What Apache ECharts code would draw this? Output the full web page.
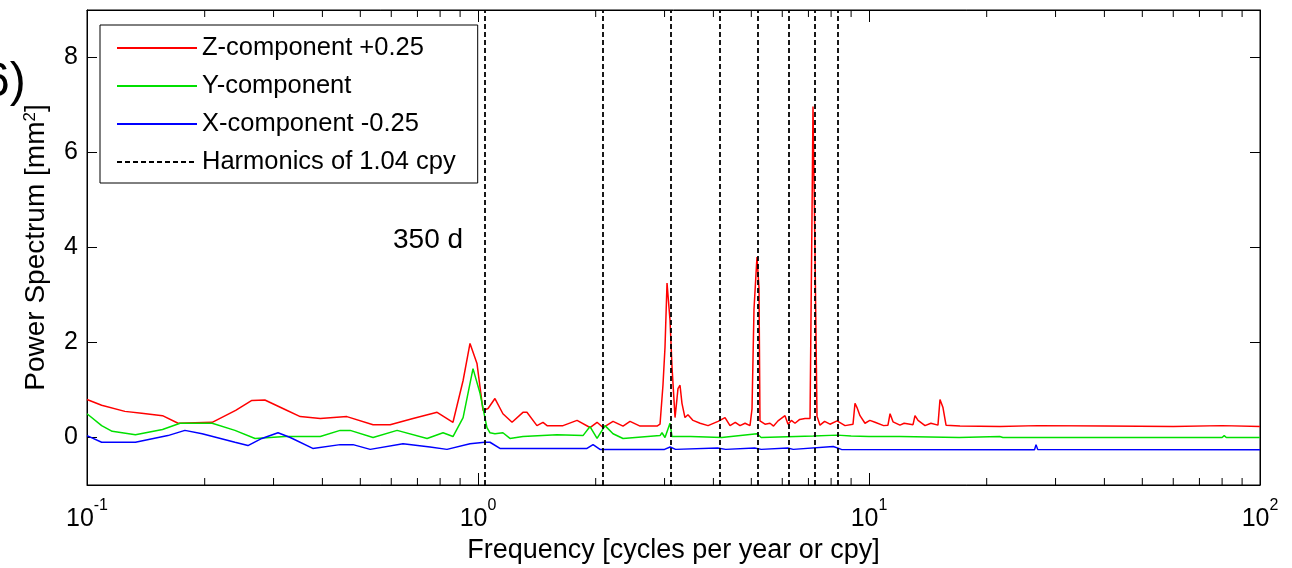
<!DOCTYPE html>
<html>
<head>
<meta charset="utf-8">
<script src="https://cdn.jsdelivr.net/npm/echarts@6/dist/echarts.min.js"></script>
<style>html,body{margin:0;padding:0;background:#fff;}#c{width:1292px;height:568px;}</style>
</head>
<body>
<div id="c"></div>
<script>
// ---- data (plotted values, offsets already included) ----
const zFreq = [0.100,0.109,0.125,0.138,0.156,0.171,0.209,0.240,0.264,0.285,0.321,0.351,0.395,0.462,0.539,0.596,0.682,0.786,0.863,0.916,0.954,0.994,1.030,1.061,1.105,1.158,1.222,1.303,1.334,1.415,1.466,1.502,1.650,1.792,1.934,2.016,2.088,2.215,2.349,2.448,2.597,2.870,2.921,2.972,3.008,3.044,3.098,3.135,3.191,3.228,3.247,3.286,3.324,3.383,3.443,3.548,3.698,3.876,4.111,4.283,4.411,4.550,4.679,4.820,4.962,5.021,5.080,5.170,5.232,5.262,5.420,5.583,5.700,5.852,6.098,6.207,6.330,6.468,6.650,6.860,7.066,7.149,7.191,7.276,7.362,7.492,7.700,7.947,8.285,8.684,9.101,9.209,9.318,9.484,9.767,10.05,10.36,10.90,11.18,11.32,11.52,12.00,12.30,12.96,13.11,13.35,13.91,14.40,15.01,15.19,15.46,15.74,17.09,21.63,27.0,40.0,60.0,80.0,100.0];
const zVal  = [0.80,0.68,0.55,0.51,0.46,0.30,0.32,0.57,0.78,0.79,0.59,0.44,0.40,0.44,0.27,0.27,0.40,0.53,0.32,1.20,1.98,1.56,0.57,0.61,0.82,0.50,0.32,0.53,0.53,0.25,0.32,0.25,0.25,0.36,0.21,0.32,0.21,0.34,0.24,0.34,0.24,0.24,0.28,1.10,1.90,3.25,2.47,1.48,0.42,0.82,1.03,1.10,0.72,0.42,0.48,0.36,0.30,0.25,0.34,0.42,0.25,0.32,0.25,0.30,0.25,0.60,2.70,3.80,3.15,0.35,0.28,0.30,0.24,0.35,0.46,0.28,0.36,0.30,0.38,0.40,0.40,4.70,6.97,3.90,0.45,0.26,0.34,0.28,0.35,0.25,0.28,0.72,0.63,0.46,0.30,0.36,0.32,0.25,0.26,0.50,0.33,0.26,0.30,0.27,0.46,0.36,0.25,0.30,0.26,0.80,0.63,0.26,0.24,0.23,0.25,0.24,0.23,0.25,0.23];

const yFreq = [0.100,0.109,0.116,0.133,0.156,0.173,0.209,0.239,0.269,0.321,0.395,0.444,0.471,0.539,0.621,0.741,0.814,0.863,0.916,0.971,1.012,1.054,1.073,1.105,1.158,1.207,1.303,1.592,1.856,1.934,2.016,2.113,2.215,2.349,2.921,2.955,3.008,3.098,3.135,3.500,4.200,5.170,5.300,7.200,8.300,9.000,10.00,12.00,17.00,21.60,22.00,80.00,81.00,82.00,100.0];
const yVal  = [0.50,0.25,0.13,0.06,0.17,0.30,0.30,0.15,-0.02,0.02,0.02,0.15,0.15,0.00,0.15,-0.02,0.10,0.02,0.42,1.45,0.93,0.21,0.10,0.08,0.10,-0.02,0.02,0.06,0.04,0.23,-0.02,0.25,0.08,-0.02,0.04,0.10,0.00,0.30,0.02,0.02,0.00,0.08,0.00,0.03,0.05,0.03,0.02,0.02,0.00,0.02,0.00,0.00,0.04,0.00,0.00];

const xFreq = [0.100,0.109,0.133,0.161,0.178,0.197,0.239,0.258,0.280,0.308,0.331,0.378,0.444,0.479,0.530,0.643,0.754,0.833,0.954,1.040,1.073,1.138,1.900,1.969,2.051,3.000,3.100,3.200,4.100,4.300,5.100,5.300,6.200,6.400,8.100,8.500,26.50,26.74,27.00,100.0];
const xVal  = [0.04,-0.10,-0.10,0.04,0.15,0.08,-0.10,-0.17,-0.02,0.10,0.00,-0.23,-0.15,-0.15,-0.25,-0.13,-0.20,-0.25,-0.13,-0.10,-0.10,-0.23,-0.23,-0.15,-0.25,-0.25,-0.20,-0.25,-0.22,-0.25,-0.22,-0.25,-0.22,-0.25,-0.19,-0.25,-0.26,-0.15,-0.25,-0.26];

const harmonics = [1.04,2.08,3.12,4.16,5.20,6.24,7.28,8.32];
const minorTicks = [0.2,0.3,0.4,0.5,0.6,0.7,0.8,0.9,2,3,4,5,6,7,8,9,20,30,40,50,60,70,80,90];
const yTickValues = [0,2,4,6,8];
const seriesNames = ['Z-component +0.25','Y-component','X-component -0.25','Harmonics of 1.04 cpy'];

const FONT = '"Liberation Sans", Arial, Helvetica, sans-serif';
const pairs = (f, v) => f.map((x, i) => [x, v[i]]);

const chart = echarts.init(document.getElementById('c'), null, {renderer: 'canvas'});
const xLabelFmt = v => '{b|10}{s|' + Math.round(Math.log10(v)) + '}';

chart.setOption({
  animation: false,
  backgroundColor: '#fff',
  textStyle: {fontFamily: FONT},
  grid: {left: 87, right: 32, top: 10, bottom: 83, show: true, borderColor: '#000', borderWidth: 1,
         backgroundColor: 'transparent', containLabel: false, outerBoundsMode: 'none'},
  legend: {
    orient: 'vertical', left: 100, top: 25,
    data: seriesNames,
    backgroundColor: '#fff', borderColor: '#000', borderWidth: 1,
    padding: [9, 22, 7, 16],
    itemWidth: 80, itemHeight: 14, itemGap: 10,
    itemStyle: {opacity: 0},
    textStyle: {fontSize: 25.5, color: '#000', fontFamily: FONT, lineHeight: 28},
    selectedMode: false
  },
  xAxis: [{
    type: 'log', logBase: 10, min: 0.1, max: 100, splitNumber: 3,
    name: 'Frequency [cycles per year or cpy]', nameLocation: 'middle', nameGap: 52,
    nameTextStyle: {fontSize: 27, color: '#000', fontFamily: FONT},
    axisLine: {show: true, onZero: false, lineStyle: {color: '#000', width: 1}},
    axisTick: {show: true, inside: true, length: 12, lineStyle: {color: '#000'}},
    axisLabel: {show: true, color: '#000', margin: 13, formatter: xLabelFmt,
      rich: {b: {fontSize: 25, lineHeight: 42, fontFamily: FONT, color: '#000'},
             s: {fontSize: 16, lineHeight: 16, verticalAlign: 'top', fontFamily: FONT, color: '#000'}}},
    splitLine: {show: false}
  }, {
    type: 'log', logBase: 10, min: 0.1, max: 100, splitNumber: 3, position: 'top',
    axisLine: {show: true, onZero: false, lineStyle: {color: '#000'}},
    axisTick: {show: true, inside: true, length: 12, lineStyle: {color: '#000'}},
    axisLabel: {show: false}, splitLine: {show: false}
  }],
  yAxis: [{
    type: 'value', min: -1, max: 9,
    name: 'Power Spectrum [mm{s|2}]', nameLocation: 'middle', nameGap: 37,
    nameTextStyle: {fontSize: 28, color: '#000', fontFamily: FONT,
      rich: {s: {fontSize: 17, verticalAlign: 'top', lineHeight: 17, fontFamily: FONT, color: '#000'}}},
    axisLine: {show: true, onZero: false, lineStyle: {color: '#000'}},
    axisTick: {show: true, inside: true, length: 10, customValues: yTickValues, lineStyle: {color: '#000'}},
    axisLabel: {show: true, fontSize: 25, color: '#000', margin: 9, customValues: yTickValues, fontFamily: FONT},
    splitLine: {show: false}
  }, {
    type: 'value', min: -1, max: 9, position: 'right',
    axisLine: {show: true, onZero: false, lineStyle: {color: '#000'}},
    axisTick: {show: true, inside: true, length: 10, customValues: yTickValues, lineStyle: {color: '#000'}},
    axisLabel: {show: false}, splitLine: {show: false}
  }],
  series: [
    {name: seriesNames[0], type: 'line', data: pairs(zFreq, zVal), showSymbol: false, symbol: 'none',
     lineStyle: {color: '#ff0000', width: 1.5}, itemStyle: {color: '#ff0000'}, z: 2},
    {name: seriesNames[1], type: 'line', data: pairs(yFreq, yVal), showSymbol: false, symbol: 'none',
     lineStyle: {color: '#00e000', width: 1.5}, itemStyle: {color: '#00e000'}, z: 3},
    {name: seriesNames[2], type: 'line', data: pairs(xFreq, xVal), showSymbol: false, symbol: 'none',
     lineStyle: {color: '#0000ff', width: 1.5}, itemStyle: {color: '#0000ff'}, z: 4},
    {name: seriesNames[3], type: 'line', data: [], showSymbol: false, symbol: 'none',
     lineStyle: {color: '#000', width: 1.5, type: [5, 3]}, itemStyle: {color: '#000'}, z: 5,
     markLine: {silent: true, symbol: ['none', 'none'], animation: false,
       label: {show: false}, lineStyle: {color: '#000', width: 1.8, type: [5, 3]},
       data: harmonics.map(h => ({xAxis: h}))}},
    {type: 'custom', silent: true, z: 6, data: minorTicks.map(f => [f, -1]),
     renderItem: function (params, api) {
       const f = api.value(0);
       const b = api.coord([f, -1]);
       const t = api.coord([f, 9]);
       return {type: 'group', children: [
         {type: 'line', shape: {x1: b[0], y1: b[1], x2: b[0], y2: b[1] - 7}, style: {stroke: '#000', lineWidth: 1}},
         {type: 'line', shape: {x1: t[0], y1: t[1], x2: t[0], y2: t[1] + 7}, style: {stroke: '#000', lineWidth: 1}}
       ]};
     }}
  ],
  graphic: [
    {type: 'text', left: 393, top: 226, style: {text: '350 d', fontSize: 28, fontFamily: FONT, fill: '#000'}},
    {type: 'text', left: -17, top: 59, style: {text: '6)', fontSize: 48, fontFamily: FONT, fill: '#000'}}
  ]
});
</script>
</body>
</html>
